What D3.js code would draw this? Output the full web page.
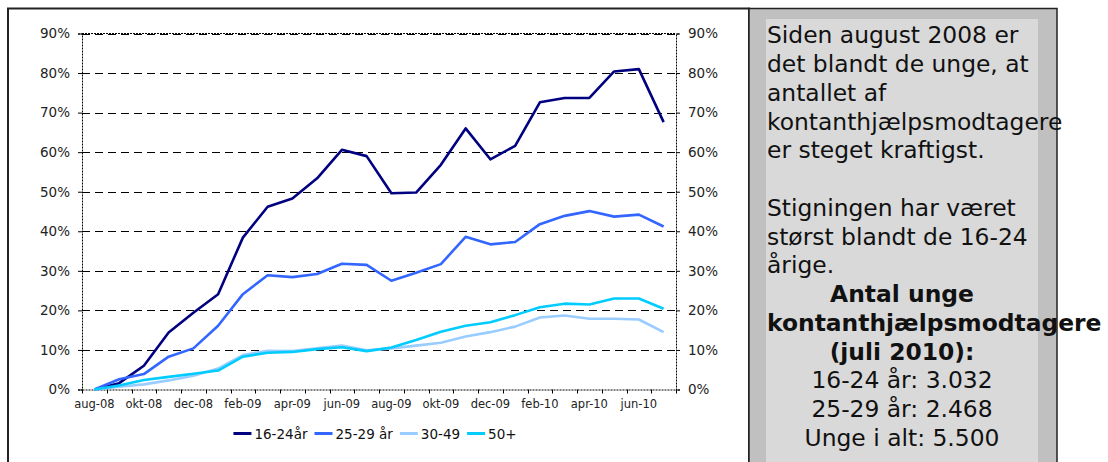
<!DOCTYPE html>
<html>
<head>
<meta charset="utf-8">
<script src="https://cdn.jsdelivr.net/npm/d3@7"></script>
<style>
  body { margin: 0; background: #fff; }
  svg { display: block; font-family: "DejaVu Sans", Verdana, sans-serif; }
</style>
</head>
<body>
<div id="chart"></div>
<script>
// months on the x axis (aug-08 .. jul-10)
const months = ["aug-08","sep-08","okt-08","nov-08","dec-08","jan-09","feb-09","mar-09","apr-09","maj-09","jun-09","jul-09",
  "aug-09","sep-09","okt-09","nov-09","dec-09","jan-10","feb-10","mar-10","apr-10","maj-10","jun-10","jul-10"];

// growth since aug-08, in percent
const s1624 = [0,1.6,6.0,14.4,19.4,24.1,38.4,46.2,48.3,53.4,60.6,59.0,49.6,49.8,56.8,66.0,58.2,61.6,72.6,73.7,73.7,80.4,81.0,67.6];
const s2529 = [0,2.6,3.9,8.3,10.4,16.1,24.1,28.9,28.4,29.2,31.8,31.5,27.5,29.5,31.7,38.6,36.7,37.3,41.8,43.9,45.1,43.7,44.2,41.2];
const s3049 = [0,0.7,1.3,2.3,3.5,5.3,8.7,9.8,9.7,10.4,11.1,9.9,10.4,11.1,11.8,13.4,14.5,15.9,18.2,18.7,17.9,17.9,17.7,14.5];
const s50 = [0,1.0,2.4,3.2,4.0,4.8,8.3,9.3,9.5,10.2,10.7,9.7,10.6,12.5,14.6,16.1,17.0,18.8,20.8,21.7,21.5,23.0,23.0,20.4];

const seriesNames = ["16-24år", "25-29 år", "30-49", "50+"];
const seriesColors = ["#000080", "#3366ff", "#99ccff", "#00ccff"];
const seriesValues = [s1624, s2529, s3049, s50];

const yTicks = [0,10,20,30,40,50,60,70,80,90];

// side panel text
const noteLines = [
  "Siden august 2008 er",
  "det blandt de unge, at",
  "antallet af",
  "kontanthjælpsmodtagere",
  "er steget kraftigst.",
  "",
  "Stigningen har været",
  "størst blandt de 16-24",
  "årige."
];
const factLines = [
  {text: "Antal unge", bold: true},
  {text: "kontanthjælpsmodtagere", bold: true},
  {text: "(juli 2010):", bold: true},
  {text: "16-24 år: 3.032", bold: false},
  {text: "25-29 år: 2.468", bold: false},
  {text: "Unge i alt: 5.500", bold: false}
];

const W = 1108, H = 462;
const plot = {left: 82, right: 676, top: 33.5, bottom: 389.5};

const svg = d3.select("#chart").append("svg")
  .attr("width", W)
  .attr("height", H);

// chart frame
svg.append("rect")
  .attr("x", 8).attr("y", 8.5)
  .attr("width", 741).attr("height", 470)
  .attr("fill", "#fff")
  .attr("stroke", "#222")
  .attr("stroke-width", 2);

const x = d3.scaleBand()
  .domain(months)
  .range([plot.left, plot.right])
  .padding(0);

const y = d3.scaleLinear()
  .domain([0, 90])
  .range([plot.bottom, plot.top]);

// gridlines
svg.append("g")
  .selectAll("line")
  .data(yTicks.filter(d => d > 0))
  .join("line")
  .attr("x1", plot.left).attr("x2", plot.right)
  .attr("y1", d => Math.round(y(d)) + 0.5)
  .attr("y2", d => Math.round(y(d)) + 0.5)
  .attr("stroke", "#000")
  .attr("stroke-width", 1)
  .attr("stroke-dasharray", "8,5");

// y axes
const fmt = d => d + "%";
const yLeft = svg.append("g")
  .attr("transform", `translate(${plot.left},0)`)
  .call(d3.axisLeft(y).tickValues(yTicks).tickFormat(fmt).tickSize(4).tickPadding(8));
const yRight = svg.append("g")
  .attr("transform", `translate(${plot.right},0)`)
  .call(d3.axisRight(y).tickValues(yTicks).tickFormat(fmt).tickSize(4).tickPadding(8));

[yLeft, yRight].forEach(g => {
  g.select(".domain").attr("stroke", "#000").attr("stroke-dasharray", "2,1");
  g.selectAll(".tick line").attr("stroke", "#000");
  g.selectAll("text")
    .attr("font-size", "13.5px")
    .attr("font-family", "DejaVu Sans, Verdana, sans-serif")
    .attr("fill", "#222");
});

// x axis
const xAxis = svg.append("g")
  .attr("transform", `translate(0,${plot.bottom})`)
  .call(d3.axisBottom(x)
    .tickValues(months.filter((d, i) => i % 2 === 0))
    .tickSize(0)
    .tickPadding(10));
xAxis.select(".domain").attr("stroke", "#000").attr("stroke-dasharray", "2,1");
xAxis.selectAll("text")
  .attr("font-size", "11.5px")
  .attr("font-family", "DejaVu Sans, Verdana, sans-serif")
  .attr("fill", "#222");

// category boundary ticks
svg.append("g")
  .selectAll("line")
  .data(months.map(d => x(d)).concat([plot.right]))
  .join("line")
  .attr("x1", d => Math.round(d) + 0.5).attr("x2", d => Math.round(d) + 0.5)
  .attr("y1", plot.bottom).attr("y2", plot.bottom + 4)
  .attr("stroke", "#000");

// top border dotted
svg.append("line")
  .attr("x1", plot.left).attr("x2", plot.right)
  .attr("y1", plot.top).attr("y2", plot.top)
  .attr("stroke", "#000")
  .attr("stroke-dasharray", "2,1");

// series
const line = d3.line()
  .x((d, i) => x(months[i]) + x.bandwidth() / 2)
  .y(d => y(d));

seriesValues.forEach((vals, k) => {
  svg.append("path")
    .datum(vals)
    .attr("fill", "none")
    .attr("stroke", seriesColors[k])
    .attr("stroke-width", 2.6)
    .attr("stroke-linejoin", "round")
    .attr("d", line);
});

// legend
const legend = svg.append("g").attr("font-size", "13.5px").attr("fill", "#111");
let lx = 0;
const items = [];
seriesNames.forEach((name, k) => {
  const g = legend.append("g").attr("transform", `translate(${lx},0)`);
  g.append("line")
    .attr("x1", 0).attr("x2", 18)
    .attr("y1", 433.5).attr("y2", 433.5)
    .attr("stroke", seriesColors[k])
    .attr("stroke-width", 3);
  const t = g.append("text")
    .attr("x", 21).attr("y", 438.5)
    .text(name);
  lx += 21 + t.node().getComputedTextLength() + 7;
});
const legendW = lx - 7;
legend.attr("transform", `translate(${375 - legendW / 2},0)`);

// side panel
svg.append("rect")
  .attr("x", 749).attr("y", 8.5)
  .attr("width", 308).attr("height", 470)
  .attr("fill", "#c0c0c0")
  .attr("stroke", "#222")
  .attr("stroke-width", 1.5);
svg.append("rect")
  .attr("x", 766).attr("y", 19)
  .attr("width", 272).attr("height", 460)
  .attr("fill", "#d9d9d9");

const lh = 28.75;
const base = 43.3;
const boxL = 767, boxW = 271, boxC = 902;
const note = svg.append("g").attr("font-size", "23.4px").attr("fill", "#111");
noteLines.forEach((s, i) => {
  note.append("text")
    .attr("x", boxL)
    .attr("y", base + i * lh)
    .text(s);
});
factLines.forEach((f, i) => {
  const t = note.append("text")
    .attr("x", boxC)
    .attr("y", base + (noteLines.length + i) * lh)
    .attr("text-anchor", "middle")
    .attr("font-weight", f.bold ? "bold" : "normal")
    .text(f.text);
  if (t.node().getComputedTextLength() > boxW) {
    t.attr("text-anchor", "start").attr("x", boxL);
  }
});
</script>
</body>
</html>
